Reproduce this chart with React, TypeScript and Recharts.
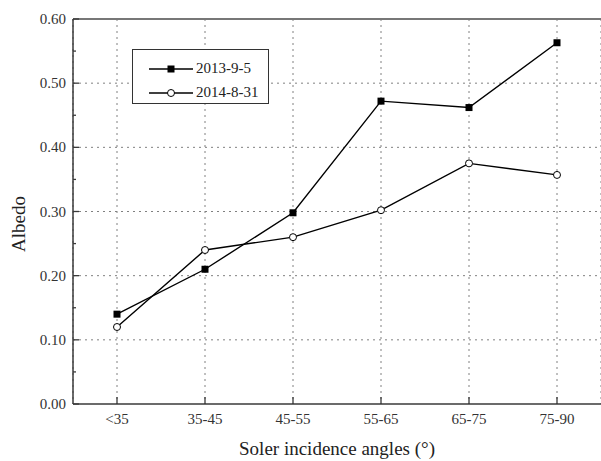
import {
  LineChart,
  Line,
  XAxis,
  YAxis,
  CartesianGrid,
  ReferenceLine,
  Legend,
} from "recharts";

const categories = ["<35", "35-45", "45-55", "55-65", "65-75", "75-90"];
const albedo2013 = [0.14, 0.21, 0.298, 0.472, 0.462, 0.563];
const albedo2014 = [0.12, 0.24, 0.26, 0.302, 0.375, 0.357];
const yTicks = [0, 0.05, 0.1, 0.15, 0.2, 0.25, 0.3, 0.35, 0.4, 0.45, 0.5, 0.55, 0.6];
const gridY = [0.1, 0.2, 0.3, 0.4, 0.5];
const seriesNames = ["2013-9-5", "2014-8-31"];

const data = categories.map((c, i) => ({
  cat: c,
  a: albedo2013[i],
  b: albedo2014[i],
}));

const FONT = '"Liberation Serif", "Times New Roman", serif';
const AXIS = "#3a3a3a";
const GRID = "#808080";

// y ticks: labels on the outside, tick marks inside, minor ticks every 0.05
const YTick = (props: any) => {
  const { x, y, payload } = props;
  const major = Math.round(payload.value * 100) % 10 === 0;
  return (
    <g>
      <line x1={x} x2={x + (major ? 6 : 3)} y1={y} y2={y} stroke={AXIS} strokeWidth={1.3} />
      {major && (
        <text x={x - 7} y={y + 5} textAnchor="end" fontSize={15} fontFamily={FONT} fill="#333">
          {payload.value.toFixed(2)}
        </text>
      )}
    </g>
  );
};

const XTick = (props: any) => {
  const { x, y, payload } = props;
  return (
    <g>
      <line x1={x} x2={x} y1={y} y2={y - 7} stroke={AXIS} strokeWidth={1.3} />
      <text x={x} y={y + 20} textAnchor="middle" fontSize={15} fontFamily={FONT} fill="#333">
        {payload.value}
      </text>
    </g>
  );
};

const SquareDot = (props: any) => {
  const { cx, cy, index } = props;
  return <rect key={"sq" + index} x={cx - 3.5} y={cy - 3.5} width={7} height={7} fill="#000" />;
};

const LegendBox = () => (
  <div
    style={{
      position: "relative",
      width: 137,
      height: 55,
      boxSizing: "border-box",
      border: "1.5px solid #333",
      background: "#fff",
      fontFamily: FONT,
      fontSize: 15,
      color: "#222",
    }}
  >
    {seriesNames.map((name, i) => (
      <div
        key={name}
        style={{ position: "absolute", left: 16, top: i === 0 ? 11 : 35, display: "flex", alignItems: "center" }}
      >
        <svg width={44} height={12} style={{ display: "block" }}>
          <line x1={0} x2={44} y1={6} y2={6} stroke="#000" strokeWidth={1.3} />
          {i === 0 ? (
            <rect x={18.5} y={2.5} width={7} height={7} fill="#000" />
          ) : (
            <circle cx={22} cy={6} r={3.5} fill="#fff" stroke="#000" strokeWidth={1} />
          )}
        </svg>
        <span style={{ marginLeft: 3, lineHeight: "15px" }}>{name}</span>
      </div>
    ))}
  </div>
);

export default function App() {
  return (
    <div style={{ position: "absolute", left: 0, top: 0, background: "#fff" }}>
      <LineChart
        width={601}
        height={461}
        data={data}
        margin={{ top: 19, right: 0, left: 0, bottom: 0 }}
      >
        <CartesianGrid horizontal={false} stroke={GRID} strokeDasharray="2 4" />
        {gridY.map((v) => (
          <ReferenceLine key={v} y={v} stroke={GRID} strokeDasharray="2 4" />
        ))}
        <ReferenceLine y={0.6} stroke="#777" strokeWidth={2} />
        <XAxis
          dataKey="cat"
          height={57}
          padding={{ left: 44, right: 44 }}
          tickSize={0}
          tickMargin={0}
          interval={0}
          tick={<XTick />}
          stroke={AXIS}
          strokeWidth={1.5}
          label={{
            value: "Soler incidence angles (°)",
            position: "insideBottom",
            offset: 6,
            fontSize: 19,
            fontFamily: FONT,
            fill: "#222",
          }}
        />
        <YAxis
          domain={[0, 0.6]}
          ticks={yTicks}
          width={73}
          tickSize={0}
          tickMargin={0}
          interval={0}
          tick={<YTick />}
          stroke={AXIS}
          strokeWidth={1.5}
          label={{
            content: () => (
              <text
                x={18}
                y={224}
                transform="rotate(-90 18 224)"
                textAnchor="middle"
                dominantBaseline="central"
                fontSize={19}
                fontFamily={FONT}
                fill="#222"
              >
                Albedo
              </text>
            ),
          }}
        />
        <Legend
          layout="horizontal"
          verticalAlign="middle"
          align="center"
          content={<LegendBox />}
          wrapperStyle={{ left: 132, top: 49, width: 137, height: 55 }}
        />
        <Line
          dataKey="a"
          name={seriesNames[0]}
          stroke="#000"
          strokeWidth={1.4}
          dot={<SquareDot />}
          isAnimationActive={false}
        />
        <Line
          dataKey="b"
          name={seriesNames[1]}
          stroke="#000"
          strokeWidth={1.4}
          dot={{ r: 3.5, fill: "#fff", stroke: "#000", strokeWidth: 1 }}
          isAnimationActive={false}
        />
      </LineChart>
    </div>
  );
}
